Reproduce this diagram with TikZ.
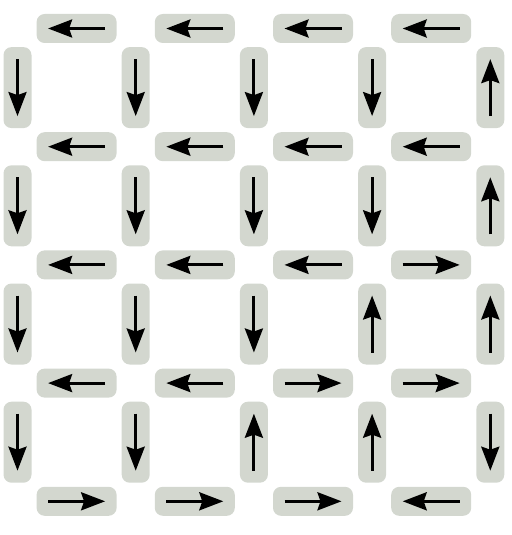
\documentclass[tikz,border=0pt]{standalone}
\usepackage{tikz}
\usetikzlibrary{arrows.meta}
\definecolor{edgegray}{HTML}{D3D7CF}

\begin{document}
\begin{tikzpicture}[
    x=1pt, y=-1pt,
    hbox/.style={rectangle, fill=edgegray, rounded corners=8pt, minimum width=80pt, minimum height=29pt, inner sep=0pt},
    vbox/.style={hbox, minimum width=28pt, minimum height=81pt},
    flow/.style={-{Stealth[length=24pt, width=18pt, inset=3pt]}, line width=3pt, black}
]
\useasboundingbox (0,0) rectangle (511,535);

% Horizontal edges (+1 = right, -1 = left)
\foreach \j/\row in {0/{-1,-1,-1,-1}, 1/{-1,-1,-1,-1}, 2/{-1,-1,-1,1}, 3/{-1,-1,1,1}, 4/{1,1,1,-1}} {
  \foreach [count=\i from 0] \d in \row {
    \node[hbox] (h-\i-\j) at ({76.6+118.2*\i}, {28.5+118.2*\j}) {};
    \draw[flow] ([xshift={\d*(-28.5pt)}]h-\i-\j.center) -- ([xshift={\d*28.5pt}]h-\i-\j.center);
  }
}

% Vertical edges (+1 = up, -1 = down)
\foreach \j/\row in {0/{-1,-1,-1,-1,1}, 1/{-1,-1,-1,-1,1}, 2/{-1,-1,-1,1,1}, 3/{-1,-1,1,1,-1}} {
  \foreach [count=\i from 0] \d in \row {
    \node[vbox] (v-\i-\j) at ({17.5+118.2*\i}, {87.6+118.2*\j}) {};
    \draw[flow] ([yshift={\d*(-28.5pt)}]v-\i-\j.center) -- ([yshift={\d*28.5pt}]v-\i-\j.center);
  }
}

\end{tikzpicture}
\end{document}
